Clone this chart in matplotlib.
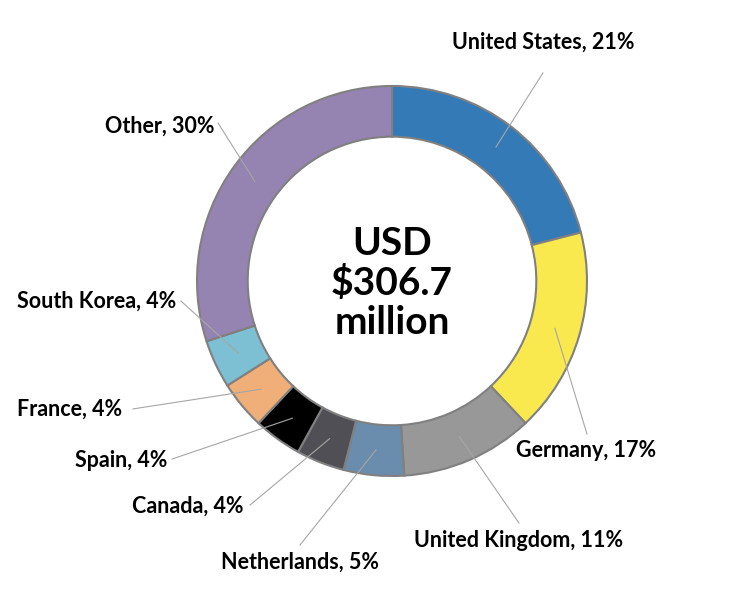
import numpy as np
import matplotlib
matplotlib.use("Agg")
import matplotlib.pyplot as plt

plt.rcParams['font.family'] = ['Lato', 'DejaVu Sans']

countries = ['United States', 'Germany', 'United Kingdom', 'Netherlands', 'Canada',
             'Spain', 'France', 'South Korea', 'Other']
shares = [21, 17, 11, 5, 4, 4, 4, 4, 30]
colors = ['#347AB6', '#FAE84F', '#989898', '#6A8DAD', '#4F4F55',
          '#000000', '#F0AE78', '#7DBFD3', '#9583B2']
center_label = 'USD\n\\$306.7\nmillion'

# label placement (data units, pie radius = 1)
label_xy = [(0.774, 1.226), (0.995, -0.867), (0.651, -1.333), (-0.472, -1.441),
            (-0.764, -1.154), (-1.154, -0.918), (-1.385, -0.656), (-1.108, -0.103),
            (-0.908, 0.795)]
label_ha = ['center', 'center', 'center', 'center', 'right', 'right', 'right', 'right', 'right']
line_end = [(0.774, 1.067), (1.0, -0.785), (0.651, -1.241), (-0.472, -1.354),
            (-0.728, -1.149), (-1.128, -0.913), (-1.328, -0.656), (-1.082, -0.103),
            (-0.892, 0.810)]

fig = plt.figure(figsize=(7.46, 5.90), dpi=100)
ax = fig.add_axes([0, 0, 1, 1])

wedges, _ = ax.pie(shares, colors=colors, startangle=90, counterclock=False,
                   radius=1, wedgeprops=dict(width=0.26, edgecolor='#808080', linewidth=1.5))

ax.set_xlim(-392 / 195, (746 - 392) / 195)
ax.set_ylim(-309 / 195, 281 / 195)
ax.set_aspect('equal')
ax.axis('off')

for w, name, pct, (tx, ty), ha, (lx, ly) in zip(wedges, countries, shares, label_xy, label_ha, line_end):
    mid = np.deg2rad((w.theta1 + w.theta2) / 2)
    r = 0.87
    ax.plot([r * np.cos(mid), lx], [r * np.sin(mid), ly], color='#A6A6A6', lw=0.8, zorder=3)
    ax.text(tx, ty, f'{name}, {pct}%', ha=ha, va='center', fontsize=15.5, fontweight='bold')

ax.text(0, -0.01, center_label, ha='center', va='center', fontsize=28, fontweight='bold',
        linespacing=1.15)

fig.savefig('out.png', dpi=100)
